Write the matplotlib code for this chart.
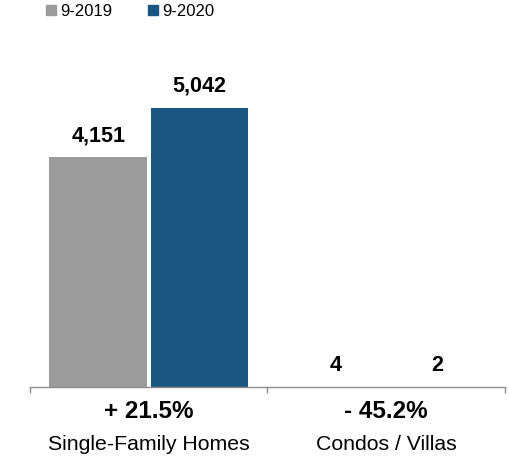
import matplotlib
matplotlib.use("Agg")
import matplotlib.pyplot as plt
from matplotlib.transforms import blended_transform_factory
from matplotlib.lines import Line2D

categories = ["Single-Family Homes", "Condos / Villas"]
series_names = ["9-2019", "9-2020"]
values_2019 = [4151, 4]
values_2020 = [5042, 2]
changes = ["+ 21.5%", "- 45.2%"]

colors = ["#9b9b9b", "#1a5682"]
plt.rcParams['font.family'] = ['Liberation Sans', 'DejaVu Sans']

W, H = 510, 459
fig = plt.figure(figsize=(W / 100, H / 100), dpi=100)
ax = fig.add_axes([30 / W, 72 / H, 475 / W, 327 / H])

x = list(range(len(categories)))
bw = 0.41
off = 0.213
ax.bar([i - off for i in x], values_2019, width=bw, color=colors[0])
ax.bar([i + off for i in x], values_2020, width=bw, color=colors[1])

ax.set_xlim(-0.5, 1.5)
ax.set_ylim(0, 5042 * 327 / 279)

for i in x:
    ax.annotate(f"{values_2019[i]:,}", (i - off, values_2019[i]), xytext=(0, 8),
                textcoords="offset points", ha="center", va="bottom",
                fontsize=15.5, fontweight="bold")
    ax.annotate(f"{values_2020[i]:,}", (i + off, values_2020[i]), xytext=(0, 8),
                textcoords="offset points", ha="center", va="bottom",
                fontsize=15.5, fontweight="bold")

for s in ["top", "right", "left"]:
    ax.spines[s].set_visible(False)
ax.spines["bottom"].set_color("#8c8c8c")
ax.spines["bottom"].set_linewidth(1)
ax.set_yticks([])
ax.set_xticks([-0.5, 0.5, 1.5])
ax.set_xticklabels([])
ax.tick_params(axis="x", length=4.5, color="#8c8c8c", width=1, direction="out")

tr = blended_transform_factory(ax.transData, fig.transFigure)
for i in x:
    fig.text(i, 1 - 412 / H, changes[i], transform=tr, ha="center", va="center",
             fontsize=17.5, fontweight="bold")
    fig.text(i, 1 - 444 / H, categories[i], transform=tr, ha="center", va="center",
             fontsize=15.3)

handles = [Line2D([], [], marker="s", linestyle="none", markersize=6.5,
                  markerfacecolor=c, markeredgecolor=c) for c in colors]
fig.legend(handles, series_names, loc="upper left", bbox_to_anchor=(28 / W, 1.025),
           ncol=2, frameon=False, fontsize=12, handletextpad=0.05,
           columnspacing=1.9, handlelength=1.0)

fig.savefig("out.png", dpi=100)
